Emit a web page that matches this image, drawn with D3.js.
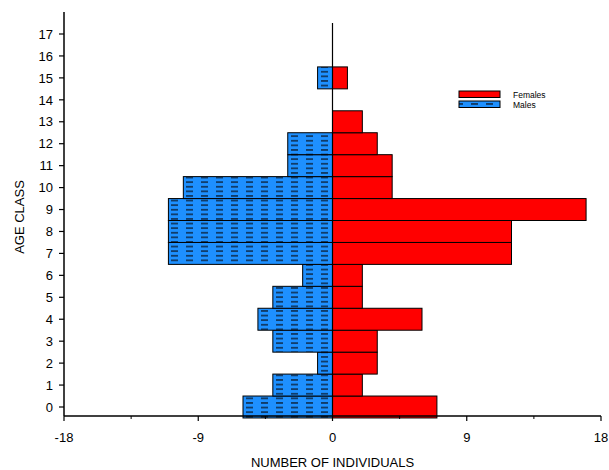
<!DOCTYPE html>
<html><head><meta charset="utf-8">
<script src="https://cdn.jsdelivr.net/npm/d3@7"></script>
<style>body{margin:0;background:#fff}svg{display:block}text{font-family:"Liberation Sans",Arial,sans-serif}</style>
</head><body>
<script>
const ageClasses = [0,1,2,3,4,5,6,7,8,9,10,11,12,13,14,15,16,17];
const males   = [6,4,1,4,5,4,2,11,11,11,10,3,3,0,0,1,0,0];
const females = [7,2,3,3,6,2,2,12,12,17,4,4,3,2,0,1,0,0];
const xTicks = [-18,-9,0,9,18];
const xMinorTicks = [-13.5,-4.5,4.5,13.5];
const seriesNames = ["Females","Males"];

const W=609,H=470;
const svg=d3.select("body").append("svg").attr("width",W).attr("height",H);
const x=d3.scaleLinear().domain([-18,18]).range([64,601]);
const y=d3.scaleLinear().domain([0,17]).range([407,34]);

const defs=svg.append("defs");
const pat=defs.append("pattern").attr("id","dash").attr("patternUnits","userSpaceOnUse")
  .attr("width",15).attr("height",4.6).attr("x",2).attr("y",0);
pat.append("rect").attr("width",15).attr("height",4.6).attr("fill","#1e90ff");
pat.append("rect").attr("x",4).attr("y",2).attr("width",7).attr("height",1.5).attr("fill","#0d2a4a");

const g=svg.append("g");
g.selectAll(".m").data(ageClasses.filter((d,i)=>males[i]>0)).join("rect")
  .attr("x",d=>x(-males[d])).attr("y",d=>y(d+0.5))
  .attr("width",d=>x(0)-x(-males[d])).attr("height",d=>y(d-0.5)-y(d+0.5))
  .attr("fill","url(#dash)").attr("stroke","#000").attr("stroke-width",1);
g.selectAll(".f").data(ageClasses.filter((d,i)=>females[i]>0)).join("rect")
  .attr("x",x(0)).attr("y",d=>y(d+0.5))
  .attr("width",d=>x(females[d])-x(0)).attr("height",d=>y(d-0.5)-y(d+0.5))
  .attr("fill","#ff0000").attr("stroke","#000").attr("stroke-width",1);

svg.append("line").attr("x1",x(0)).attr("x2",x(0)).attr("y1",y(17.5)).attr("y2",y(-0.4))
  .attr("stroke","#000").attr("stroke-width",1.2);

const axisY=416;
const xa=svg.append("g").attr("transform",`translate(0,${axisY})`);
xa.append("line").attr("x1",x(-18)).attr("x2",x(18)).attr("stroke","#000").attr("stroke-width",1.5);
xa.selectAll(".t").data(xTicks).join("line").attr("x1",d=>x(d)).attr("x2",d=>x(d)).attr("y1",0).attr("y2",5).attr("stroke","#000").attr("stroke-width",1.2);
xa.selectAll(".mt").data(xMinorTicks).join("line").attr("x1",d=>x(d)).attr("x2",d=>x(d)).attr("y1",0).attr("y2",3).attr("stroke","#000").attr("stroke-width",1);
xa.selectAll(".tl").data(xTicks).join("text").attr("x",d=>x(d)).attr("y",26).attr("text-anchor","middle")
  .attr("font-size",13).text(d=>d);
svg.append("text").attr("x",x(0)).attr("y",467).attr("text-anchor","middle").attr("font-size",13).text("NUMBER OF INDIVIDUALS");

const ya=svg.append("g").attr("transform",`translate(${x(-18)},0)`);
ya.append("line").attr("y1",12).attr("y2",axisY).attr("stroke","#000").attr("stroke-width",1.5);
ya.selectAll(".t").data(ageClasses).join("line").attr("y1",d=>y(d)).attr("y2",d=>y(d)).attr("x1",-5).attr("x2",0).attr("stroke","#000").attr("stroke-width",1.2);
ya.selectAll(".tl").data(ageClasses).join("text").attr("x",-11).attr("y",d=>y(d)+4.7).attr("text-anchor","end")
  .attr("font-size",13).text(d=>d);
svg.append("text").attr("transform",`translate(24,217) rotate(-90)`).attr("text-anchor","middle").attr("font-size",13).text("AGE CLASS");

const lg=svg.append("g");
const fills=["#ff0000","url(#dash)"];
seriesNames.forEach((n,i)=>{
  lg.append("rect").attr("x",459).attr("y",91+i*10).attr("width",41).attr("height",6.5)
    .attr("fill",fills[i]).attr("stroke","#000").attr("stroke-width",1);
  lg.append("text").attr("x",513).attr("y",98+i*10).attr("font-size",8.5).text(n);
});
</script>
</body></html>
